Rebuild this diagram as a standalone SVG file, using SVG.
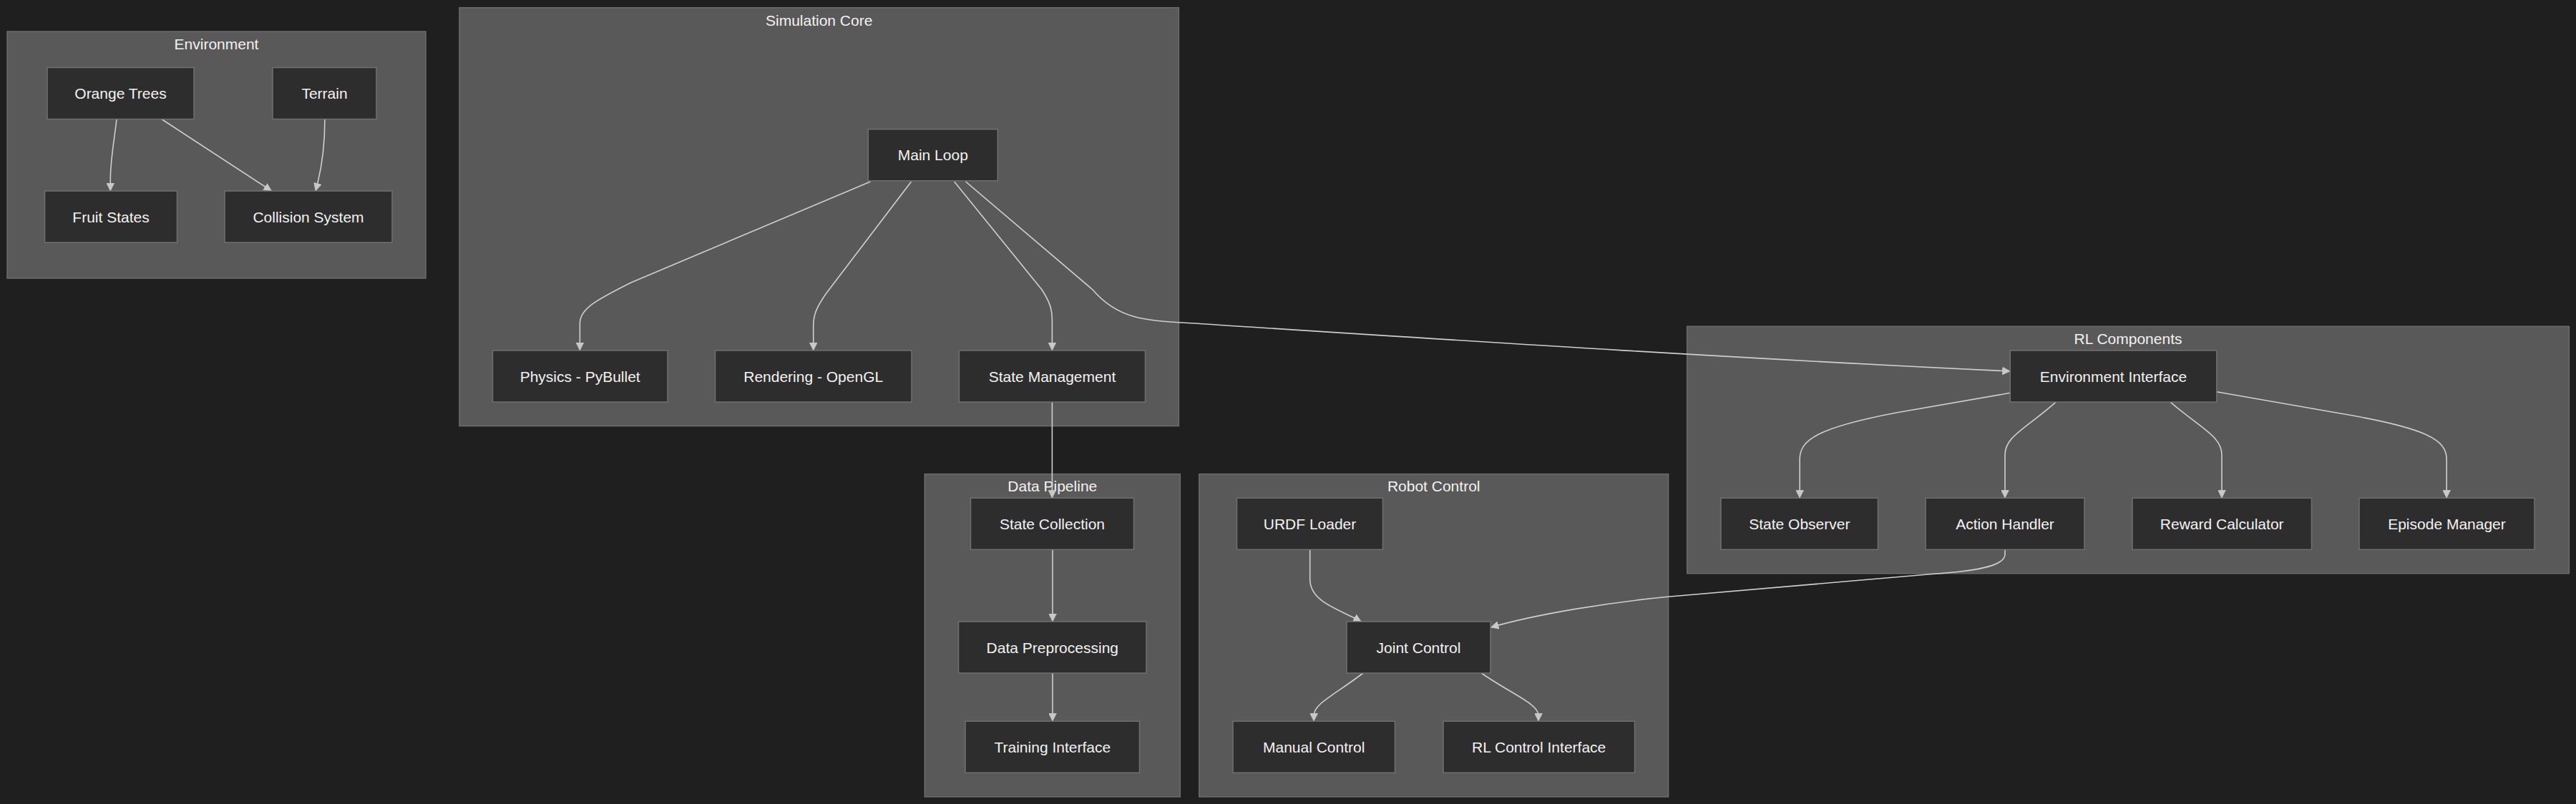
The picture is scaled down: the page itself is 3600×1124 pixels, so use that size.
<svg xmlns="http://www.w3.org/2000/svg" width="3600" height="1124" viewBox="0 0 3600 1124">
<style>
.bg{fill:#1f1f1f}
.cluster rect{fill:#595959;stroke:#6c6c6c;stroke-width:1.5}
.cluster text{fill:#f2f2f2;font-family:"Liberation Sans",Arial,sans-serif;font-size:21px;text-anchor:middle}
.node rect{fill:#2d2d2d;stroke:#707070;stroke-width:1.5}
.node text{fill:#f2f2f2;font-family:"Liberation Sans",Arial,sans-serif;font-size:21px;text-anchor:middle}
.edges path{fill:none;stroke:#cfcfcf;stroke-width:1.6;marker-end:url(#arrow)}
</style>
<defs>
<marker id="arrow" markerUnits="userSpaceOnUse" viewBox="0 0 10 10" refX="10" refY="5" markerWidth="11" markerHeight="11" orient="auto">
<path d="M0,0 L10,5 L0,10 z" fill="#c8c8c8" stroke="#c8c8c8" stroke-width="0.5"/>
</marker>
</defs>
<rect class="bg" x="0" y="0" width="3600" height="1124"/>

<g id="clusters">
<g id="cluster-environment" class="cluster"><rect x="10" y="44" width="585" height="345"/><text x="302.5" y="68.5">Environment</text></g>
<g id="cluster-simulation-core" class="cluster"><rect x="642" y="10.7" width="1005.4" height="584.8"/><text x="1144.7" y="35.5">Simulation Core</text></g>
<g id="cluster-data-pipeline" class="cluster"><rect x="1292.3" y="662.7" width="357" height="451.3"/><text x="1470.8" y="687">Data Pipeline</text></g>
<g id="cluster-robot-control" class="cluster"><rect x="1675.8" y="662.7" width="655.8" height="451.3"/><text x="2003.7" y="687">Robot Control</text></g>
<g id="cluster-rl-components" class="cluster"><rect x="2357.7" y="456.3" width="1232.7" height="345.4"/><text x="2974" y="480.5">RL Components</text></g>
</g>

<g id="connectors" class="edges">
<path d="M163,167 C159,200 154.3,225 154.3,250 L154.3,267"/>
<path d="M226.5,167 L379.6,267"/>
<path d="M453.9,167 C454,205 450,235 441,267"/>
<path d="M1216.3,254 L882,395 C832,420 810.4,432 810.4,452 L810.4,490"/>
<path d="M1273.4,254 L1154,411 C1141,430 1136.7,440 1136.7,456 L1136.7,490"/>
<path d="M1333.7,254 L1456,405 C1467,422 1470.4,432 1470.4,448 L1470.4,490"/>
<path d="M1349.6,254 L1527,405 C1562,446 1600,448 1660,451.5 C1980,472 2400,500 2809.3,519"/>
<path d="M1470.4,562 L1470.4,696.3"/>
<path d="M1471,768.3 L1471,869"/>
<path d="M1471,941 L1471,1008.3"/>
<path d="M1830.7,768.3 L1830.7,810 C1831,842 1872,852 1902.4,869"/>
<path d="M1905,941 C1864,972 1836.2,984 1836.2,1000 L1836.2,1008.3"/>
<path d="M2070.2,941 C2112,970 2150,984 2150,1000 L2150,1008.3"/>
<path d="M2809.3,549.3 L2650,577 C2540,598 2515.2,615 2515.2,642 L2515.2,696.3"/>
<path d="M2872.8,562.3 C2830,600 2802,610 2802,636 L2802,696.3"/>
<path d="M3033.5,562.3 C3077,600 3105,610 3105,636 L3105,696.3"/>
<path d="M3097.8,547.7 L3265,577 C3392,598 3419.2,615 3419.2,642 L3419.2,696.3"/>
<path d="M2802,768.7 L2802,775 C2802,792 2758,799 2700,802.5 L2331,834.3 C2250,842 2150,858 2083.4,877"/>
</g>

<g id="nodes">
<g id="node-orange-trees" class="node"><rect x="66" y="94.5" width="205" height="72"/><text x="168.5" y="138">Orange Trees</text></g>
<g id="node-terrain" class="node"><rect x="381" y="94.5" width="145" height="72"/><text x="453.5" y="138">Terrain</text></g>
<g id="node-fruit-states" class="node"><rect x="62.5" y="267" width="185" height="72"/><text x="155" y="310.5">Fruit States</text></g>
<g id="node-collision-system" class="node"><rect x="314" y="267" width="234" height="72"/><text x="431" y="310.5">Collision System</text></g>
<g id="node-main-loop" class="node"><rect x="1213.3" y="180.7" width="181" height="72"/><text x="1303.8" y="224.2">Main Loop</text></g>
<g id="node-physics" class="node"><rect x="688.5" y="490" width="244.5" height="72"/><text x="810.7" y="533.5">Physics - PyBullet</text></g>
<g id="node-rendering" class="node"><rect x="999.5" y="490" width="274.5" height="72"/><text x="1136.7" y="533.5">Rendering - OpenGL</text></g>
<g id="node-state-management" class="node"><rect x="1340.5" y="490" width="260" height="72"/><text x="1470.5" y="533.5">State Management</text></g>
<g id="node-state-collection" class="node"><rect x="1356.5" y="696.3" width="228" height="72"/><text x="1470.5" y="739.8">State Collection</text></g>
<g id="node-data-preprocessing" class="node"><rect x="1339.5" y="869" width="262.5" height="72"/><text x="1470.8" y="912.5">Data Preprocessing</text></g>
<g id="node-training-interface" class="node"><rect x="1349" y="1008.3" width="243.5" height="72"/><text x="1470.8" y="1051.8">Training Interface</text></g>
<g id="node-urdf-loader" class="node"><rect x="1728.5" y="696.3" width="204" height="72"/><text x="1830.5" y="739.8">URDF Loader</text></g>
<g id="node-joint-control" class="node"><rect x="1882" y="869" width="201" height="72"/><text x="1982.5" y="912.5">Joint Control</text></g>
<g id="node-manual-control" class="node"><rect x="1723" y="1008.3" width="226.5" height="72"/><text x="1836.2" y="1051.8">Manual Control</text></g>
<g id="node-rl-control-interface" class="node"><rect x="2017" y="1008.3" width="267.5" height="72"/><text x="2150.7" y="1051.8">RL Control Interface</text></g>
<g id="node-environment-interface" class="node"><rect x="2809.3" y="490" width="288.5" height="72"/><text x="2953.5" y="533.5">Environment Interface</text></g>
<g id="node-state-observer" class="node"><rect x="2405" y="696.3" width="219.5" height="72"/><text x="2514.8" y="739.8">State Observer</text></g>
<g id="node-action-handler" class="node"><rect x="2691" y="696.3" width="222" height="72"/><text x="2802" y="739.8">Action Handler</text></g>
<g id="node-reward-calculator" class="node"><rect x="2980" y="696.3" width="250.5" height="72"/><text x="3105.2" y="739.8">Reward Calculator</text></g>
<g id="node-episode-manager" class="node"><rect x="3297" y="696.3" width="245" height="72"/><text x="3419.5" y="739.8">Episode Manager</text></g>
</g>
</svg>
